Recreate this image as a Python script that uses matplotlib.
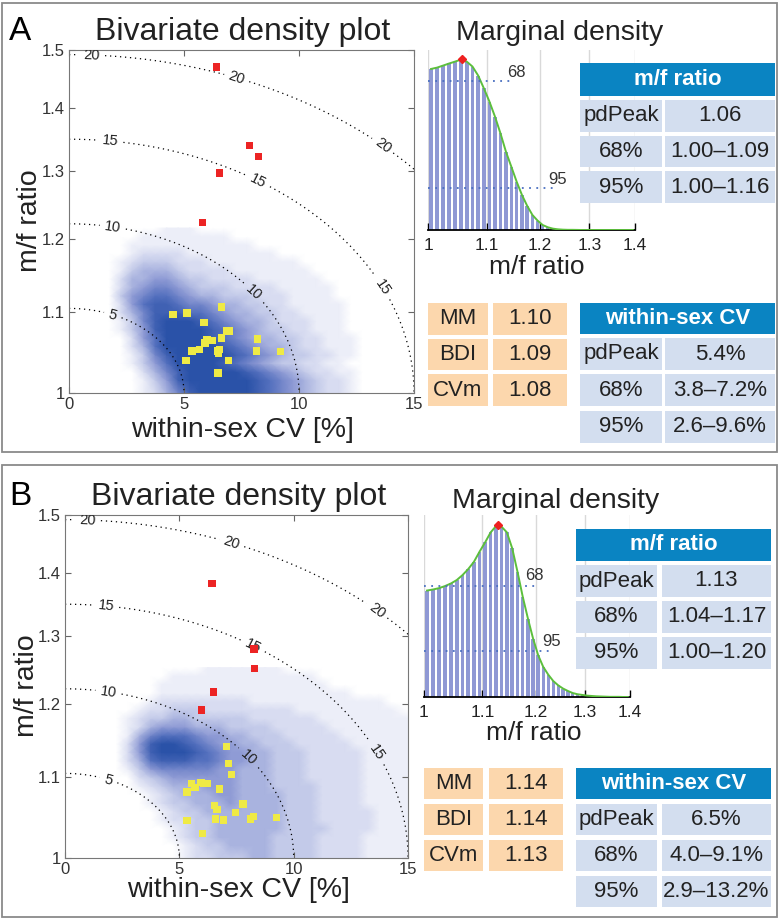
"""Bivariate density + marginal density panels (A and B) with summary tables."""

import numpy as np
import matplotlib

matplotlib.use("Agg")
import matplotlib.pyplot as plt  # noqa: E402
from matplotlib.colors import LinearSegmentedColormap, Normalize  # noqa: E402
from matplotlib.patches import Rectangle  # noqa: E402
from matplotlib.ticker import FixedLocator, FixedFormatter, NullLocator  # noqa: E402

plt.rcParams["font.family"] = ["Liberation Sans", "DejaVu Sans"]

W, H = 780, 919

# ---------------- data ----------------
# density grid: columns = within-sex CV in 0.5 steps (0..15),
# rows = ln(m/f ratio) in 0.01 steps from ratio 1 upward; digits = shade level
CV_STEP = 0.5
LNR_STEP = 0.01

A_DENSITY = [
    "000000124689999987654322100000",
    "000000135899999987654322100000",
    "000000246899999876543221100000",
    "000001357999987654332211000000",
    "000001368999998765433221100000",
    "000002479999987654432211100000",
    "000002579999876544332211100000",
    "000013589999876543322111000000",
    "000013689998765443222111000000",
    "000024688877654433221111000000",
    "000025788766544332211111000000",
    "000035677654433322211110000000",
    "000024566543332222111110000000",
    "000024455433222211111100000000",
    "000013444322221111111000000000",
    "000012333222111111110000000000",
    "000001222211111111000000000000",
    "000001111111111100000000000000",
    "000000111111110000000000000000",
    "000000001110000000000000000000",
]

B_DENSITY = [
    "000000000012233344333322221111",
    "000000000012334444333322221111",
    "000000000123344444333322221111",
    "000000000123344444433332222111",
    "000000001223344444433322222111",
    "000000001233444444433322222111",
    "000000012334445444433322221111",
    "000000012344455444433322221111",
    "000000123444555444333322221111",
    "000000234555555444333222221111",
    "000001356666655444333222221111",
    "000002478887765544333222221111",
    "000002589998765544333222221111",
    "000002589987655443332222211111",
    "000001467776554433322222111111",
    "000001245554443333222221111111",
    "000001233443333322222211111111",
    "000000122333222222221111111110",
    "000000012222222211111111111100",
    "000000001111111111111111100000",
    "000000001111111111111110000000",
    "000000000111111111111100000000",
    "000000000000111111100000000000",
]

A_YELLOW_CV = [4.52, 5.13, 6.62, 5.87, 6.84, 6.99, 6.62, 6.23, 6.00, 5.91, 5.68,
               5.35, 6.48, 6.55, 6.51, 5.09, 6.93, 6.48, 8.20, 8.14, 9.19]
A_YELLOW_R = [1.097, 1.099, 1.107, 1.087, 1.076, 1.076, 1.067, 1.064, 1.065, 1.061,
              1.053, 1.051, 1.051, 1.053, 1.048, 1.039, 1.039, 1.024, 1.066, 1.051, 1.050]
A_RED_CV = [6.42, 7.84, 8.23, 6.54, 5.81]
A_RED_R = [1.470, 1.340, 1.323, 1.297, 1.223]

B_YELLOW_CV = [7.06, 7.16, 7.28, 5.52, 5.95, 6.23, 6.08, 5.68, 5.34, 6.75, 6.55,
               6.64, 7.79, 7.47, 6.58, 6.94, 8.24, 8.12, 9.26, 5.33, 6.00]
B_YELLOW_R = [1.141, 1.118, 1.104, 1.092, 1.093, 1.092, 1.092, 1.087, 1.081, 1.085,
              1.064, 1.059, 1.066, 1.055, 1.047, 1.046, 1.050, 1.047, 1.049, 1.045, 1.029]
B_RED_CV = [6.43, 8.27, 8.30, 6.48, 5.97]
B_RED_R = [1.383, 1.280, 1.251, 1.217, 1.191]

# marginal density of m/f ratio, bins of 0.01 from 1.00 to 1.40
MARG_BIN_LEFT = np.round(np.arange(1.0, 1.4, 0.01), 2)
A_MARG = [0.943, 0.951, 0.963, 0.975, 0.986, 0.998, 0.986, 0.957, 0.904, 0.830,
          0.752, 0.664, 0.566, 0.459, 0.371, 0.283, 0.205, 0.141, 0.088, 0.055,
          0.029, 0.016, 0.008, 0.004, 0.002, 0.001, 0.001, 0.0005, 0.0, 0.0,
          0.0, 0.0, 0.0, 0.0, 0.0, 0.0, 0.0, 0.0, 0.0, 0.0]
B_MARG = [0.619, 0.625, 0.633, 0.645, 0.660, 0.680, 0.709, 0.744, 0.786, 0.845,
          0.899, 0.957, 0.994, 0.990, 0.957, 0.864, 0.728, 0.583, 0.456, 0.340,
          0.243, 0.175, 0.130, 0.093, 0.068, 0.049, 0.035, 0.023, 0.016, 0.012,
          0.008, 0.006, 0.004, 0.003, 0.002, 0.001, 0.001, 0.001, 0.0, 0.0]
A_PEAK = (1.056, 1.0)
B_PEAK = (1.129, 1.0)
A_HPD_LEVELS = {"68": 0.873, "95": 0.248}
B_HPD_LEVELS = {"68": 0.647, "95": 0.268}

A_MF_TABLE = [("pdPeak", "1.06"), ("68%", "1.00–1.09"), ("95%", "1.00–1.16")]
A_CV_TABLE = [("pdPeak", "5.4%"), ("68%", "3.8–7.2%"), ("95%", "2.6–9.6%")]
A_EST = [("MM", "1.10"), ("BDI", "1.09"), ("CVm", "1.08")]
B_MF_TABLE = [("pdPeak", "1.13"), ("68%", "1.04–1.17"), ("95%", "1.00–1.20")]
B_CV_TABLE = [("pdPeak", "6.5%"), ("68%", "4.0–9.1%"), ("95%", "2.9–13.2%")]
B_EST = [("MM", "1.14"), ("BDI", "1.14"), ("CVm", "1.13")]

CONTOUR_LEVELS = [5, 10, 15, 20]

# ---------------- styles ----------------
DENS_CMAP = LinearSegmentedColormap.from_list(
    "dens", [(0.0, "#ffffff"), (1 / 9, "#eceef8"), (3 / 9, "#c3cae9"),
             (5 / 9, "#8f9bd5"), (7 / 9, "#5671bf"), (1.0, "#2a52a8")])
BAR_COLOR = "#8f98d4"
CURVE_COLOR = "#5cbf3c"
HEAD_BLUE = "#0a84c2"
CELL_BLUE = "#d3deef"
CELL_ORANGE = "#fcd7ad"
TXT = "#222222"


def fx(x):
    return x / W


def fy(y):
    return 1 - y / H


def draw_bivariate(ax, dens_rows, ycv, yr, rcv, rr):
    levels = np.array([[int(c) for c in row] for row in dens_rows], dtype=float)
    # cell centres; outermost ones pinned to the axis limits
    cv_c = (np.arange(levels.shape[1]) + 0.5) * CV_STEP
    cv_c[0], cv_c[-1] = 0.0, 15.0
    r_c = np.exp((np.arange(levels.shape[0]) + 0.5) * LNR_STEP)
    r_c[0] = 1.0
    ax.pcolormesh(cv_c, r_c, levels, cmap=DENS_CMAP, norm=Normalize(0, 9),
                  shading="gouraud", zorder=1)

    # iso-dimorphism guide curves
    cv = np.linspace(0, 15, 400)
    r = np.geomspace(1, 1.5, 400)
    cvg, rg = np.meshgrid(cv, r)
    z = np.sqrt(cvg ** 2 + (50 * np.log(rg)) ** 2)
    cs = ax.contour(cvg, rg, z, levels=CONTOUR_LEVELS, colors="k",
                    linewidths=0.9, linestyles=[(0, (1, 3))], zorder=2)
    spots = [(1.0, 1.496), (7.3, 1.452), (13.6, 1.338),
             (1.8, 1.348), (8.2, 1.283), (13.5, 1.130),
             (1.9, 1.216), (8.0, 1.125), (1.9, 1.096)]
    ax.clabel(cs, manual=spots, inline=True, fontsize=10.5, fmt="%d", colors="#222")

    ax.scatter(ycv, yr, marker="s", s=28, color="#efea45", edgecolors="none", zorder=4)
    ax.scatter(rcv, rr, marker="s", s=28, color="#ec2424", edgecolors="none", zorder=4)

    ax.set_yscale("log")
    ax.set_xlim(0, 15)
    ax.set_ylim(1, 1.5)
    ax.xaxis.set_major_locator(FixedLocator([0, 5, 10, 15]))
    ax.xaxis.set_major_formatter(FixedFormatter(["0", "5", "10", "15"]))
    yt = [1, 1.1, 1.2, 1.3, 1.4, 1.5]
    ax.yaxis.set_major_locator(FixedLocator(yt))
    ax.yaxis.set_major_formatter(FixedFormatter(["1", "1.1", "1.2", "1.3", "1.4", "1.5"]))
    ax.yaxis.set_minor_locator(NullLocator())
    ax.tick_params(direction="in", top=True, right=True, length=4, width=0.8,
                   color="#666", labelsize=12, labelcolor="#333", pad=3)
    for s in ax.spines.values():
        s.set_color("#777")
        s.set_linewidth(0.8)


def draw_marginal(ax, heights, peak, hpd, hpd_end, hpd_txt, ymax):
    centers = MARG_BIN_LEFT + 0.005
    ax.bar(centers, heights, width=0.0066, color=BAR_COLOR, zorder=2)
    ax.plot(centers, heights, color=CURVE_COLOR, lw=1.4, zorder=3)
    ax.plot([peak[0]], [peak[1]], marker="D", ms=4, color="#ee2020", zorder=4)
    for key in ("68", "95"):
        ax.plot([1.0, hpd_end[key]], [hpd[key]] * 2, color="#4a6fc0",
                lw=1.3, ls=(0, (1, 3)), zorder=3)
        ax.text(hpd_txt[key][0], hpd_txt[key][1], key, fontsize=12,
                color="#333", ha="left", va="center", zorder=5)
    ax.set_xscale("log")
    ax.set_xlim(1, 1.4)
    ax.set_ylim(0, ymax)
    ax.xaxis.set_major_locator(FixedLocator([1, 1.1, 1.2, 1.3, 1.4]))
    ax.xaxis.set_major_formatter(FixedFormatter(["1", "1.1", "1.2", "1.3", "1.4"]))
    ax.xaxis.set_minor_locator(NullLocator())
    ax.set_yticks([])
    ax.grid(axis="x", color="#d9d9d9", lw=1)
    ax.set_axisbelow(True)
    for side in ("left", "top", "right"):
        ax.spines[side].set_visible(False)
    ax.spines["bottom"].set_linewidth(1.3)
    ax.tick_params(axis="x", direction="in", length=5, width=1, color="k",
                   labelsize=12.5, labelcolor="#222", pad=6)


def cell(fig, x0, y0, x1, y1, color, text, bold=False, tcolor=TXT):
    fig.add_artist(Rectangle((fx(x0), fy(y1)), fx(x1) - fx(x0), (y1 - y0) / H,
                             transform=fig.transFigure, facecolor=color,
                             edgecolor="none"))
    fig.text(fx((x0 + x1) / 2), fy((y0 + y1) / 2), text, ha="center", va="center",
             fontsize=16, color=tcolor, fontweight="bold" if bold else "normal")


def draw_table(fig, x0, xs1, xs2, x1, y_head, head_h, y_rows, pitch, row_h, title, rows):
    cell(fig, x0, y_head, x1, y_head + head_h, HEAD_BLUE, title, bold=True, tcolor="white")
    for i, (k, v) in enumerate(rows):
        top = y_rows + i * pitch
        cell(fig, x0, top, xs1, top + row_h, CELL_BLUE, k)
        cell(fig, xs2, top, x1, top + row_h, CELL_BLUE, v)


def draw_est(fig, x0, xs1, xs2, x1, y_rows, pitch, row_h, rows):
    for i, (k, v) in enumerate(rows):
        top = y_rows + i * pitch
        cell(fig, x0, top, xs1, top + row_h, CELL_ORANGE, k)
        cell(fig, xs2, top, x1, top + row_h, CELL_ORANGE, v)


def main() -> None:
    fig = plt.figure(figsize=(W / 100, H / 100), dpi=100)

    # panel frames
    for top, bot in ((3, 452), (465, 917)):
        fig.add_artist(Rectangle((fx(2), fy(bot)), fx(775), (bot - top) / H,
                                 transform=fig.transFigure, fill=False,
                                 edgecolor="#8a8a8a", lw=1.3))

    # ---- panel A ----
    ax = fig.add_axes([fx(69), fy(393), 345 / W, 343 / H])
    draw_bivariate(ax, A_DENSITY, A_YELLOW_CV, A_YELLOW_R, A_RED_CV, A_RED_R)
    axm = fig.add_axes([fx(428), fy(230), 207 / W, 180 / H])
    draw_marginal(axm, A_MARG, A_PEAK, A_HPD_LEVELS,
                  {"68": 1.143, "95": 1.227},
                  {"68": (1.137, 0.92), "95": (1.215, 0.293)}, 1.054)

    fig.text(fx(20), fy(40), "A", fontsize=24, ha="center", va="baseline")
    fig.text(fx(243), fy(40), "Bivariate density plot", fontsize=23,
             ha="center", va="baseline", color="#222")
    fig.text(fx(560), fy(40), "Marginal density", fontsize=20.5,
             ha="center", va="baseline", color="#222")
    fig.text(fx(242), fy(437), "within-sex CV [%]", fontsize=20.5,
             ha="center", va="baseline", color="#222")
    fig.text(fx(30), fy(221), "m/f ratio", fontsize=20.5, rotation=90,
             ha="center", va="center", color="#222")
    fig.text(fx(537), fy(274), "m/f ratio", fontsize=19,
             ha="center", va="baseline", color="#222")

    draw_table(fig, 580, 662, 665, 775, 63, 33, 100, 35.7, 31.5, "m/f ratio", A_MF_TABLE)
    draw_table(fig, 580, 662, 665, 775, 303, 31, 338, 36.3, 32, "within-sex CV", A_CV_TABLE)
    draw_est(fig, 428, 488, 493, 567, 303, 35.7, 31.5, A_EST)

    # ---- panel B ----
    ax = fig.add_axes([fx(65), fy(858), 343 / W, 343 / H])
    draw_bivariate(ax, B_DENSITY, B_YELLOW_CV, B_YELLOW_R, B_RED_CV, B_RED_R)
    axm = fig.add_axes([fx(424), fy(697), 206 / W, 182 / H])
    draw_marginal(axm, B_MARG, B_PEAK, B_HPD_LEVELS,
                  {"68": 1.199, "95": 1.232},
                  {"68": (1.180, 0.709), "95": (1.213, 0.32)}, 1.058)

    fig.text(fx(20), fy(505), "B", fontsize=24, ha="center", va="baseline")
    fig.text(fx(239), fy(505), "Bivariate density plot", fontsize=23,
             ha="center", va="baseline", color="#222")
    fig.text(fx(556), fy(508), "Marginal density", fontsize=20.5,
             ha="center", va="baseline", color="#222")
    fig.text(fx(238), fy(897), "within-sex CV [%]", fontsize=20.5,
             ha="center", va="baseline", color="#222")
    fig.text(fx(27), fy(686), "m/f ratio", fontsize=20.5, rotation=90,
             ha="center", va="center", color="#222")
    fig.text(fx(534), fy(740), "m/f ratio", fontsize=19,
             ha="center", va="baseline", color="#222")

    draw_table(fig, 576, 657, 662, 771, 529, 32, 565, 36, 32, "m/f ratio", B_MF_TABLE)
    draw_table(fig, 576, 657, 662, 771, 768, 31, 804, 36, 31, "within-sex CV", B_CV_TABLE)
    draw_est(fig, 424, 483, 489, 563, 768, 36, 31, B_EST)

    fig.savefig("out.png", dpi=100)
    plt.close(fig)


if __name__ == "__main__":
    main()
